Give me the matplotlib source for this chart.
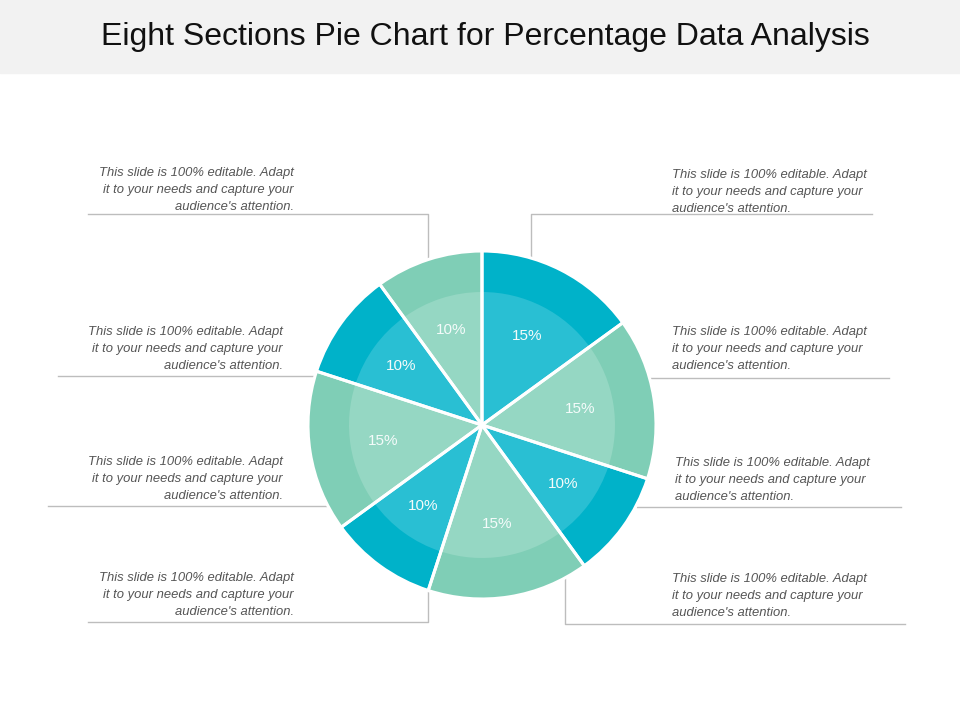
import matplotlib.pyplot as plt
from matplotlib.patches import Rectangle

plt.rcParams['font.family'] = ['Liberation Sans', 'DejaVu Sans']

# data, clockwise from 12 o'clock
values = [15, 15, 10, 15, 10, 15, 10, 10]
outer_colors = ['#00b2c9', '#7fceb6', '#00b2c9', '#7fceb6',
                '#00b2c9', '#7fceb6', '#00b2c9', '#7fceb6']
inner_colors = ['#29bfd3', '#95d7c3', '#29bfd3', '#95d7c3',
                '#29bfd3', '#95d7c3', '#29bfd3', '#95d7c3']
title = 'Eight Sections Pie Chart for Percentage Data Analysis'
note = "This slide is 100% editable. Adapt\nit to your needs and capture your\naudience's attention."

H = 720
fig = plt.figure(figsize=(9.6, 7.2), dpi=100)
ax = fig.add_axes([0, 0, 1, 1])
ax.set_xlim(0, 960)
ax.set_ylim(0, H)
ax.set_aspect('equal')
ax.axis('off')

# title band
ax.add_patch(Rectangle((0, H - 73), 960, 73, color='#f2f2f2', zorder=0))
ax.text(485, H - 37, title, ha='center', va='center', fontsize=23, color='#111111')

cx, cy = 482, H - 425
R, r_in = 174, 133

ax.pie(values, colors=outer_colors, radius=R, center=(cx, cy), startangle=90,
       counterclock=False, wedgeprops=dict(linewidth=0))
ax.pie(values, colors=inner_colors, radius=r_in, center=(cx, cy), startangle=90,
       counterclock=False, autopct='%d%%', pctdistance=0.75,
       textprops=dict(color='#f4fbfa', fontsize=11, zorder=5),
       wedgeprops=dict(linewidth=0))
# white separators between slices
ax.pie(values, colors=['none'] * len(values), radius=R, center=(cx, cy), startangle=90,
       counterclock=False, wedgeprops=dict(edgecolor='white', linewidth=2.2))
ax.set_xlim(0, 960)
ax.set_ylim(0, H)

lc = '#bdbdbd'
def line(xs, ys):
    ax.plot(xs, [H - y for y in ys], color=lc, lw=1, zorder=0.5)

# connectors
line([88, 428, 428], [214, 214, 258])
line([872, 531, 531], [214, 214, 258])
line([58, 318], [376, 376])
line([650, 889], [378, 378])
line([48, 326], [506, 506])
line([637, 901], [507, 507])
line([88, 428, 428], [622, 622, 590])
line([905, 565, 565], [624, 624, 578])

# notes
tkw = dict(fontsize=9.4, style='italic', color='#555555', va='top', linespacing=1.55)
for x, y in [(294, 167), (283, 326), (283, 456), (294, 572)]:
    ax.text(x, H - y, note, ha='right', multialignment='right', **tkw)
for x, y in [(672, 169), (672, 326), (675, 457), (672, 573)]:
    ax.text(x, H - y, note, ha='left', multialignment='left', **tkw)

fig.savefig('out.png', dpi=100)
